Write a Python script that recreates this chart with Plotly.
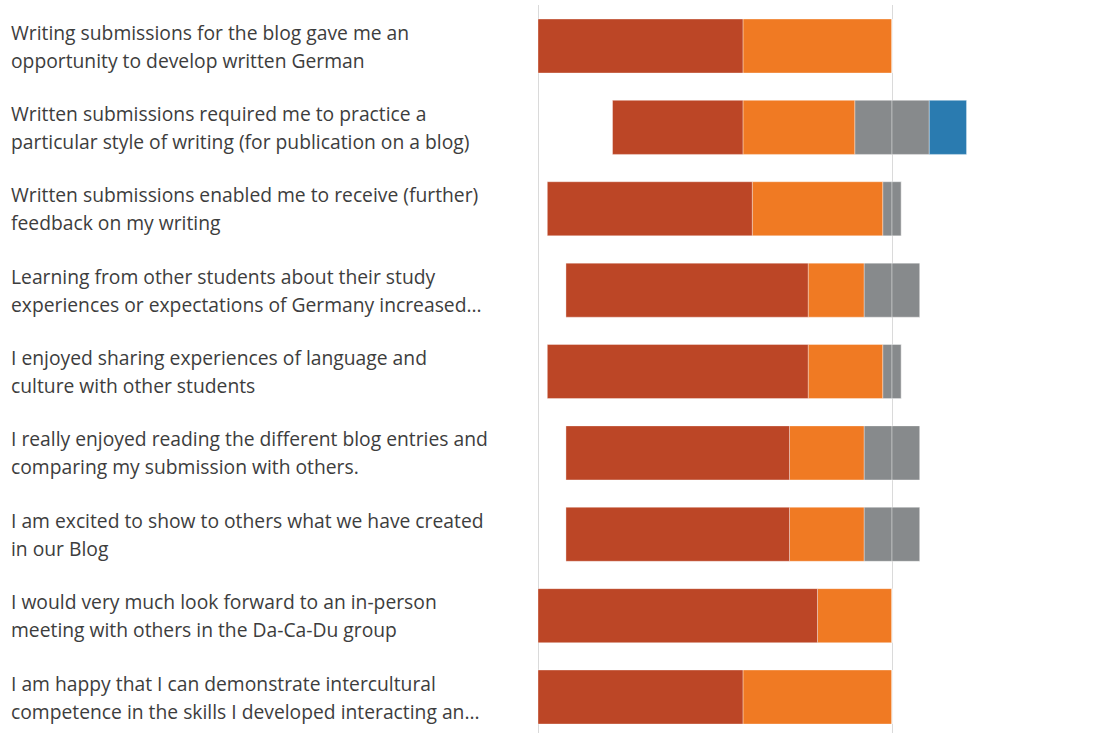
import plotly.graph_objects as go

# Survey statements, split into the two display lines used beside each bar
line1 = [
    "Writing submissions for the blog gave me an",
    "Written submissions required me to practice a",
    "Written submissions enabled me to receive (further)",
    "Learning from other students about their study",
    "I enjoyed sharing experiences of language and",
    "I really enjoyed reading the different blog entries and",
    "I am excited to show to others what we have created",
    "I would very much look forward to an in-person",
    "I am happy that I can demonstrate intercultural",
]
line2 = [
    "opportunity to develop written German",
    "particular style of writing (for publication on a blog)",
    "feedback on my writing",
    "experiences or expectations of Germany increased...",
    "culture with other students",
    "comparing my submission with others.",
    "in our Blog",
    "meeting with others in the Da-Ca-Du group",
    "competence in the skills I developed interacting an...",
]

# Response counts per statement (19 respondents)
strongly_agree = [11, 7, 11, 13, 14, 12, 12, 15, 11]
agree = [8, 6, 7, 3, 4, 4, 4, 4, 8]
neutral = [0, 4, 1, 3, 1, 3, 3, 0, 0]
disagree = [0, 2, 0, 0, 0, 0, 0, 0, 0]
respondents = 19

colors = {
    "Strongly agree": "#BC4626",
    "Agree": "#F07A23",
    "Neutral": "#878A8C",
    "Disagree": "#2A7BB0",
}

rows = list(range(len(line1)))


def pct(values):
    return [v / respondents * 100 for v in values]


edge = dict(color="rgba(255,255,255,0.35)", width=1)
fig = go.Figure()

# Negative side (stacks leftwards from the centre): neutral half, agree, strongly agree
fig.add_trace(go.Bar(y=rows, x=[-v / 2 for v in pct(neutral)], orientation="h",
                     marker=dict(color=colors["Neutral"], line=edge), width=0.664,
                     name="Neutral", showlegend=False))
fig.add_trace(go.Bar(y=rows, x=[-v for v in pct(agree)], orientation="h",
                     marker=dict(color=colors["Agree"], line=edge), width=0.664,
                     name="Agree", showlegend=False))
fig.add_trace(go.Bar(y=rows, x=[-v for v in pct(strongly_agree)], orientation="h",
                     marker=dict(color=colors["Strongly agree"], line=edge), width=0.664,
                     name="Strongly agree", showlegend=False))
# Positive side: other neutral half, then disagree
fig.add_trace(go.Bar(y=rows, x=[v / 2 for v in pct(neutral)], orientation="h",
                     marker=dict(color=colors["Neutral"], line=edge), width=0.664,
                     name="Neutral", showlegend=False))
fig.add_trace(go.Bar(y=rows, x=pct(disagree), orientation="h",
                     marker=dict(color=colors["Disagree"], line=edge), width=0.664,
                     name="Disagree", showlegend=False))

annotations = []
for i in rows:
    for text, shift in ((line1[i], 14), (line2[i], -14)):
        annotations.append(dict(
            x=9 / 1118, xref="paper", y=i, yref="y", yshift=shift,
            text=text, showarrow=False, xanchor="left", yanchor="middle",
            font=dict(family="Open Sans", size=19.3, color="#3D3D3D"),
        ))

fig.update_layout(
    width=1118, height=733,
    margin=dict(l=0, r=0, t=5, b=0),
    barmode="relative",
    plot_bgcolor="white", paper_bgcolor="white",
    annotations=annotations,
    xaxis=dict(domain=[530 / 1118, 1], range=[-102.26, 63.84],
               tickvals=[-100, 0], showticklabels=False, showgrid=True,
               gridcolor="#DADADA", gridwidth=1, zeroline=False, ticks=""),
    yaxis=dict(range=[8.442, -0.504], showticklabels=False, showgrid=False,
               zeroline=False, ticks=""),
)

fig.write_html("out.html")
